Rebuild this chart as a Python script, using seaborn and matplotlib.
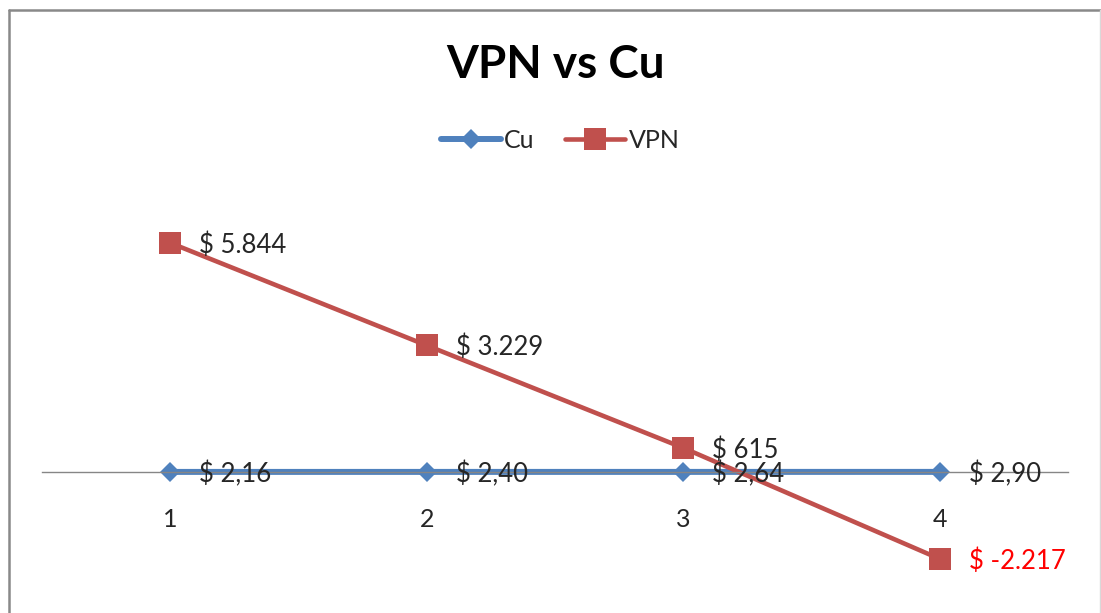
import matplotlib
matplotlib.use("Agg")
import matplotlib.pyplot as plt
import seaborn as sns
from matplotlib.lines import Line2D

# data
periodos = [1, 2, 3, 4]
cu = [2.16, 2.40, 2.64, 2.90]
vpn = [5844, 3229, 615, -2217]
cu_labels = ["$ 2,16", "$ 2,40", "$ 2,64", "$ 2,90"]
vpn_labels = ["$ 5.844", "$ 3.229", "$ 615", "$ -2.217"]
vpn_label_colors = ["#262626", "#262626", "#262626", "#FF0000"]

sns.set_style("white")
plt.rcParams['font.family'] = ['Lato', 'DejaVu Sans']

fig = plt.figure(figsize=(11.01, 6.13), dpi=100)
ax = fig.add_axes([42 / 1101, 0, 1026 / 1101, 433 / 613])

azul = "#4F81BD"
rojo = "#C0504D"

sns.lineplot(x=periodos, y=cu, ax=ax, color=azul, linewidth=4.3, marker="D",
             markersize=10.5, markeredgewidth=0, label="Cu")
sns.lineplot(x=periodos, y=vpn, ax=ax, color=rojo, linewidth=3.3, marker="s",
             markersize=15.5, markeredgewidth=0, label="VPN")

for x, y, t in zip(periodos, cu, cu_labels):
    ax.annotate(t, (x, y), xytext=(21, -2), textcoords="offset points",
                ha="left", va="center", fontsize=18.5, color="#262626")
for x, y, t, c in zip(periodos, vpn, vpn_labels, vpn_label_colors):
    ax.annotate(t, (x, y), xytext=(21, -1.5), textcoords="offset points",
                ha="left", va="center", fontsize=18.5, color=c)

ax.set_xlim(0.5, 4.5)
ax.set_ylim(-3597, 7449)
ax.set_xticks(periodos)
ax.set_xticklabels([str(p) for p in periodos])
ax.set_yticks([])
for s in ["left", "right", "top"]:
    ax.spines[s].set_visible(False)
ax.spines["bottom"].set_position(("data", 0))
ax.spines["bottom"].set_color("#868686")
ax.spines["bottom"].set_linewidth(1)
ax.tick_params(axis="x", length=0, pad=26, labelsize=18, labelcolor="#262626")

ax.get_legend().remove()
handles, labels = ax.get_legend_handles_labels()
fig.legend(handles, labels, loc="center", bbox_to_anchor=(560 / 1101, 1 - 140 / 613),
           ncol=2, frameon=False, fontsize=18, handlelength=2.4, columnspacing=1.2,
           handletextpad=0.15)

fig.text(555 / 1101, 1 - 65 / 613, "VPN vs Cu", ha="center", va="center",
         fontsize=33, fontweight="bold", color="black")

# marco del grafico
fig.add_artist(Line2D([8.5 / 1101, 8.5 / 1101], [0, 1 - 10 / 613],
                      transform=fig.transFigure, color="#898989", linewidth=1.8))
fig.add_artist(Line2D([8.5 / 1101, 1100 / 1101], [1 - 10 / 613, 1 - 10 / 613],
                      transform=fig.transFigure, color="#898989", linewidth=1.8))
fig.add_artist(Line2D([1100 / 1101, 1100 / 1101], [0, 1 - 10 / 613],
                      transform=fig.transFigure, color="#d9d9d9", linewidth=1))

fig.savefig("out.png", dpi=100)
